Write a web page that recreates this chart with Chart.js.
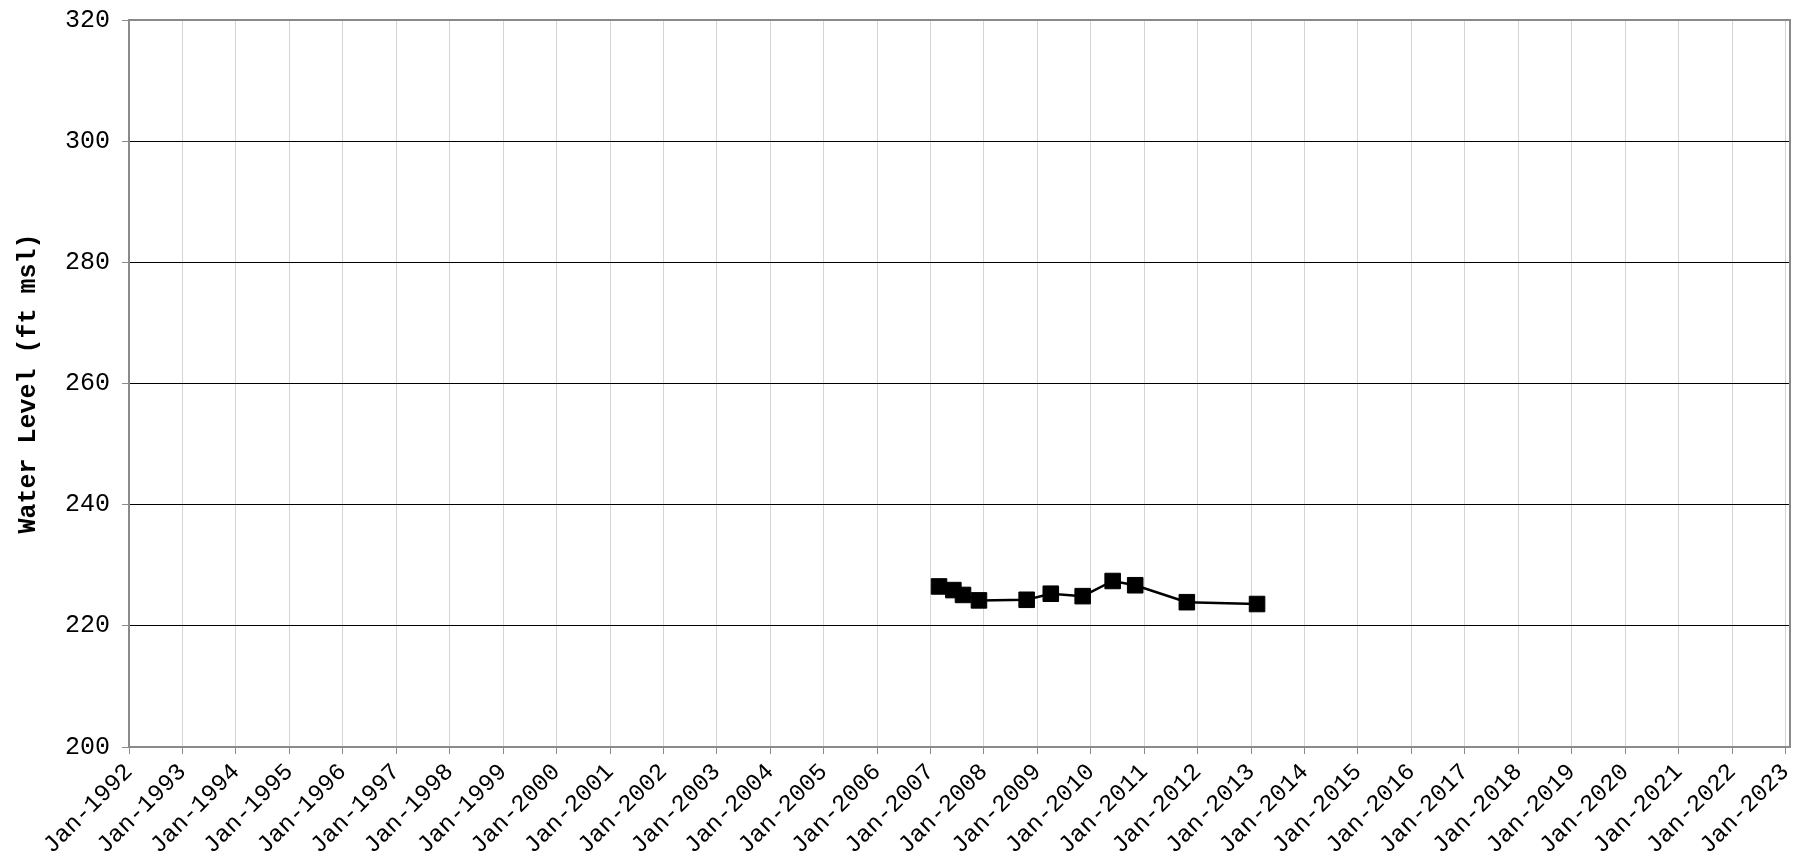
<!DOCTYPE html>
<html>
<head>
<meta charset="utf-8">
<script src="https://cdn.jsdelivr.net/npm/chart.js@4/dist/chart.umd.min.js"></script>
<style>
  html, body { margin: 0; padding: 0; background: #fff; }
  #wrap { width: 1812px; height: 857px; }
</style>
</head>
<body>
<div id="wrap"><canvas id="levelChart"></canvas></div>
<script>
// ----------------------------------------------------------------------
// data
// ----------------------------------------------------------------------
const SAMPLE_DATES = [
  '2007-02-28', '2007-06-06', '2007-08-11', '2007-11-28',
  '2008-10-19', '2009-04-02', '2009-11-06', '2010-05-30',
  '2010-10-31', '2011-10-19', '2013-02-10'
];
const WATER_LEVELS = [226.5, 225.9, 225.1, 224.2, 224.3, 225.3, 224.9, 227.4, 226.7, 223.9, 223.6];

const FIRST_YEAR = 1992;
const LAST_YEAR = 2023;
const TICK_YEARS = [];
for (let y = FIRST_YEAR; y <= LAST_YEAR; y++) TICK_YEARS.push(y);

const Y_MIN = 200, Y_MAX = 320, Y_STEP = 20;

const FONT = "'Liberation Mono', 'DejaVu Sans Mono', monospace";
const BORDER = '#8a8a8a';

function toMs(s) {
  const [y, m, d] = s.split('-').map(Number);
  return Date.UTC(y, m - 1, d);
}

const points = SAMPLE_DATES.map((d, i) => ({ x: toMs(d), y: WATER_LEVELS[i] }));

// grey frame round the plot area
const framePlugin = {
  id: 'frame',
  afterDraw(chart) {
    const a = chart.chartArea;
    const ctx = chart.ctx;
    ctx.save();
    ctx.strokeStyle = BORDER;
    ctx.lineWidth = 2;
    ctx.strokeRect(a.left, a.top, a.right - a.left, a.bottom - a.top);
    ctx.restore();
  }
};

new Chart(document.getElementById('levelChart').getContext('2d'), {
  type: 'line',
  data: {
    datasets: [{
      data: points,
      borderColor: '#000',
      backgroundColor: '#000',
      borderWidth: 2.5,
      pointStyle: 'rect',
      pointRadius: 11,
      pointBorderWidth: 1,
      tension: 0
    }]
  },
  options: {
    responsive: true,
    maintainAspectRatio: false,
    animation: false,
    layout: { padding: { top: 20, right: 22, left: 0, bottom: 0 } },
    plugins: { legend: { display: false }, tooltip: { enabled: false } },
    scales: {
      x: {
        type: 'linear',
        min: Date.UTC(FIRST_YEAR, 0, 1),
        max: Date.UTC(LAST_YEAR, 1, 1),
        afterBuildTicks: s => { s.ticks = TICK_YEARS.map(y => ({ value: Date.UTC(y, 0, 1) })); },
        afterFit: s => { s.height = 110; },
        ticks: {
          autoSkip: false,
          minRotation: 45,
          maxRotation: 45,
          padding: 4,
          color: '#000',
          font: { family: FONT, size: 24 },
          callback: v => 'Jan-' + new Date(v).getUTCFullYear()
        },
        grid: { color: '#d4d4d4', lineWidth: 1, tickLength: 7, tickColor: BORDER },
        border: { color: BORDER, width: 2 }
      },
      y: {
        min: Y_MIN,
        max: Y_MAX,
        afterFit: s => { s.width = 129; s.paddingTop = 0; s.paddingBottom = 0; },
        ticks: {
          stepSize: Y_STEP,
          padding: 12,
          color: '#000',
          font: { family: FONT, size: 25 }
        },
        grid: {
          color: c => (c.tick.value === Y_MIN || c.tick.value === Y_MAX) ? BORDER : '#000',
          lineWidth: 1,
          tickLength: 7,
          tickColor: BORDER
        },
        border: { color: BORDER, width: 2 },
        title: {
          display: true,
          text: 'Water Level (ft msl)',
          color: '#000',
          font: { family: FONT, size: 25, weight: 'bold' },
          padding: { top: 14, bottom: 8 }
        }
      }
    }
  },
  plugins: [framePlugin]
});
</script>
</body>
</html>
